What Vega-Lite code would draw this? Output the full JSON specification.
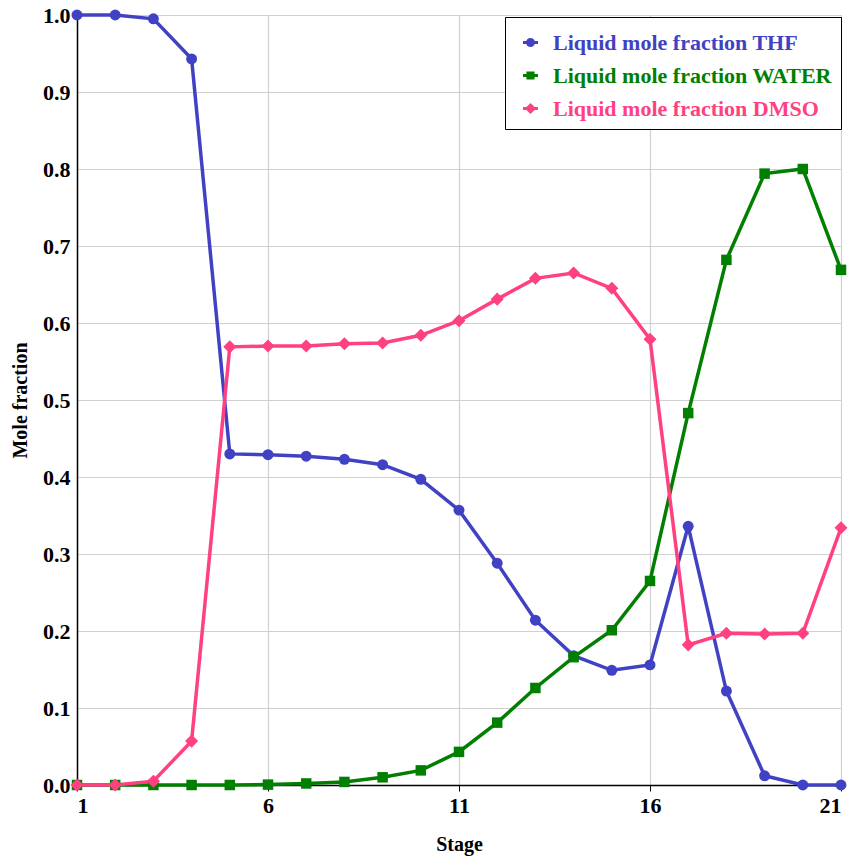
{
  "$schema": "https://vega.github.io/schema/vega-lite/v6.json",
  "width": 764,
  "height": 770,
  "autosize": {"type": "none"},
  "padding": {"left": 77, "top": 15, "right": 13, "bottom": 72},
  "background": "white",
  "config": {
    "font": "Liberation Serif",
    "view": {"stroke": null},
    "axis": {"labelFont": "Liberation Serif", "titleFont": "Liberation Serif", "labelFontWeight": "bold", "titleFontWeight": "bold", "labelColor": "black", "titleColor": "black", "labelFontSize": 22, "titleFontSize": 20, "gridColor": "#d0d0d0", "gridWidth": 1.2, "domainColor": "black", "domainWidth": 1.5, "tickColor": "black"}
  },
  "data": {"values": [
    {"stage": 1, "series": "Liquid mole fraction THF", "value": 1.0},
    {"stage": 2, "series": "Liquid mole fraction THF", "value": 1.0},
    {"stage": 3, "series": "Liquid mole fraction THF", "value": 0.995},
    {"stage": 4, "series": "Liquid mole fraction THF", "value": 0.943},
    {"stage": 5, "series": "Liquid mole fraction THF", "value": 0.430},
    {"stage": 6, "series": "Liquid mole fraction THF", "value": 0.429},
    {"stage": 7, "series": "Liquid mole fraction THF", "value": 0.427},
    {"stage": 8, "series": "Liquid mole fraction THF", "value": 0.423},
    {"stage": 9, "series": "Liquid mole fraction THF", "value": 0.416},
    {"stage": 10, "series": "Liquid mole fraction THF", "value": 0.397},
    {"stage": 11, "series": "Liquid mole fraction THF", "value": 0.357},
    {"stage": 12, "series": "Liquid mole fraction THF", "value": 0.288},
    {"stage": 13, "series": "Liquid mole fraction THF", "value": 0.214},
    {"stage": 14, "series": "Liquid mole fraction THF", "value": 0.168},
    {"stage": 15, "series": "Liquid mole fraction THF", "value": 0.149},
    {"stage": 16, "series": "Liquid mole fraction THF", "value": 0.156},
    {"stage": 17, "series": "Liquid mole fraction THF", "value": 0.336},
    {"stage": 18, "series": "Liquid mole fraction THF", "value": 0.122},
    {"stage": 19, "series": "Liquid mole fraction THF", "value": 0.012},
    {"stage": 20, "series": "Liquid mole fraction THF", "value": 0.0},
    {"stage": 21, "series": "Liquid mole fraction THF", "value": 0.0},
    {"stage": 1, "series": "Liquid mole fraction WATER", "value": 0.0},
    {"stage": 2, "series": "Liquid mole fraction WATER", "value": 0.0},
    {"stage": 3, "series": "Liquid mole fraction WATER", "value": 0.0},
    {"stage": 4, "series": "Liquid mole fraction WATER", "value": 0.0},
    {"stage": 5, "series": "Liquid mole fraction WATER", "value": 0.0},
    {"stage": 6, "series": "Liquid mole fraction WATER", "value": 0.0005},
    {"stage": 7, "series": "Liquid mole fraction WATER", "value": 0.002},
    {"stage": 8, "series": "Liquid mole fraction WATER", "value": 0.004},
    {"stage": 9, "series": "Liquid mole fraction WATER", "value": 0.010},
    {"stage": 10, "series": "Liquid mole fraction WATER", "value": 0.019},
    {"stage": 11, "series": "Liquid mole fraction WATER", "value": 0.043},
    {"stage": 12, "series": "Liquid mole fraction WATER", "value": 0.081},
    {"stage": 13, "series": "Liquid mole fraction WATER", "value": 0.126},
    {"stage": 14, "series": "Liquid mole fraction WATER", "value": 0.166},
    {"stage": 15, "series": "Liquid mole fraction WATER", "value": 0.201},
    {"stage": 16, "series": "Liquid mole fraction WATER", "value": 0.265},
    {"stage": 17, "series": "Liquid mole fraction WATER", "value": 0.483},
    {"stage": 18, "series": "Liquid mole fraction WATER", "value": 0.682},
    {"stage": 19, "series": "Liquid mole fraction WATER", "value": 0.794},
    {"stage": 20, "series": "Liquid mole fraction WATER", "value": 0.800},
    {"stage": 21, "series": "Liquid mole fraction WATER", "value": 0.669},
    {"stage": 1, "series": "Liquid mole fraction DMSO", "value": 0.0},
    {"stage": 2, "series": "Liquid mole fraction DMSO", "value": 0.0},
    {"stage": 3, "series": "Liquid mole fraction DMSO", "value": 0.005},
    {"stage": 4, "series": "Liquid mole fraction DMSO", "value": 0.057},
    {"stage": 5, "series": "Liquid mole fraction DMSO", "value": 0.569},
    {"stage": 6, "series": "Liquid mole fraction DMSO", "value": 0.570},
    {"stage": 7, "series": "Liquid mole fraction DMSO", "value": 0.570},
    {"stage": 8, "series": "Liquid mole fraction DMSO", "value": 0.573},
    {"stage": 9, "series": "Liquid mole fraction DMSO", "value": 0.574},
    {"stage": 10, "series": "Liquid mole fraction DMSO", "value": 0.584},
    {"stage": 11, "series": "Liquid mole fraction DMSO", "value": 0.603},
    {"stage": 12, "series": "Liquid mole fraction DMSO", "value": 0.631},
    {"stage": 13, "series": "Liquid mole fraction DMSO", "value": 0.658},
    {"stage": 14, "series": "Liquid mole fraction DMSO", "value": 0.665},
    {"stage": 15, "series": "Liquid mole fraction DMSO", "value": 0.645},
    {"stage": 16, "series": "Liquid mole fraction DMSO", "value": 0.579},
    {"stage": 17, "series": "Liquid mole fraction DMSO", "value": 0.182},
    {"stage": 18, "series": "Liquid mole fraction DMSO", "value": 0.197},
    {"stage": 19, "series": "Liquid mole fraction DMSO", "value": 0.196},
    {"stage": 20, "series": "Liquid mole fraction DMSO", "value": 0.197},
    {"stage": 21, "series": "Liquid mole fraction DMSO", "value": 0.334}
  ]},
  "encoding": {
    "x": {"field": "stage", "type": "quantitative", "scale": {"domain": [1, 21], "nice": false, "zero": false},
          "axis": {"values": [1, 6, 11, 16, 21], "title": "Stage", "titlePadding": 18, "labelPadding": 4, "tickSize": 6, "grid": true}},
    "y": {"field": "value", "type": "quantitative", "scale": {"domain": [0, 1], "nice": false},
          "axis": {"values": [0, 0.1, 0.2, 0.3, 0.4, 0.5, 0.6, 0.7, 0.8, 0.9, 1.0], "format": ".1f", "title": "Mole fraction", "titlePadding": 12, "labelPadding": 7, "tickSize": 0, "grid": true}},
    "color": {"field": "series", "type": "nominal",
      "scale": {"domain": ["Liquid mole fraction THF", "Liquid mole fraction WATER", "Liquid mole fraction DMSO"], "range": ["#4141C4", "#007F00", "#FF4081"]},
      "legend": {
        "title": null, "orient": "none", "legendX": 428, "legendY": 2,
        "direction": "vertical",
        "labelFont": "Liberation Serif", "labelFontWeight": "bold", "labelFontSize": 22, "labelLimit": 400, "labelOffset": 6,
        "strokeColor": "black", "fillColor": "white", "padding": 9, "rowPadding": 5,
        "symbolSize": 900, "symbolStrokeWidth": 3, "symbolOpacity": 1,
        "encode": {
          "labels": {"update": {"fill": {"scale": "color", "field": "value"}}},
          "symbols": {"update": {
            "shape": {"signal": "datum.value == 'Liquid mole fraction THF' ? 'M-0.5,0H0.5M-0.2,0A0.2,0.2 0 1,1 0.2,0A0.2,0.2 0 1,1 -0.2,0Z' : datum.value == 'Liquid mole fraction WATER' ? 'M-0.5,0H0.5M-0.17,-0.17H0.17V0.17H-0.17Z' : 'M-0.5,0H0.5M-0.23,0L0,-0.23L0.23,0L0,0.23Z'"},
            "stroke": {"scale": "color", "field": "value"},
            "fill": {"scale": "color", "field": "value"},
            "strokeWidth": {"value": 3}
          }}
        }
      }}
  },
  "layer": [
    {"mark": {"type": "line", "strokeWidth": 3.5}},
    {"transform": [{"filter": "datum.series == 'Liquid mole fraction THF'"}],
     "mark": {"type": "point", "shape": "circle", "filled": true, "opacity": 1, "size": 120}},
    {"transform": [{"filter": "datum.series == 'Liquid mole fraction WATER'"}],
     "mark": {"type": "point", "shape": "square", "filled": true, "opacity": 1, "size": 110}},
    {"transform": [{"filter": "datum.series == 'Liquid mole fraction DMSO'"}],
     "mark": {"type": "point", "shape": "diamond", "filled": true, "opacity": 1, "size": 170}}
  ]
}
